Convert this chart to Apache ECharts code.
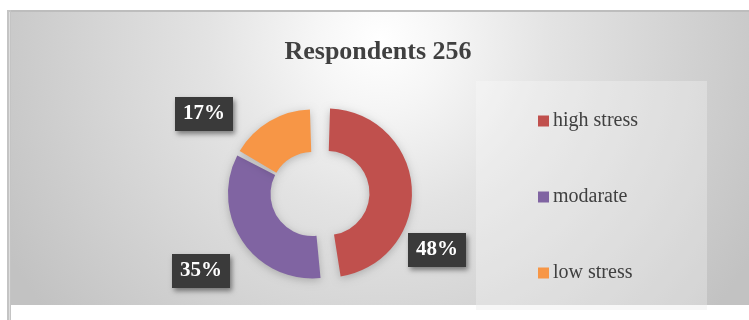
<!DOCTYPE html>
<html><head><meta charset="utf-8">
<script src="https://cdn.jsdelivr.net/npm/echarts@6/dist/echarts.min.js"></script>
<style>html,body{margin:0;padding:0;background:#fff}#c{width:749px;height:320px}</style>
</head><body><div id="c"></div>
<script>
// ---- data ----
const categories = ['high stress', 'modarate', 'low stress'];
const values = [48, 35, 17];
const titleText = 'Respondents 256';

// ---- style ----
const colors = ['#C0504D', '#8064A2', '#F79646'];
const exploded = [true, false, false];
const labelAnchors = [[437, 250], [201, 271], [204, 114]];
const pieCenter = [312.5, 194];
const pieRadius = [42, 84.5];

const chart = echarts.init(document.getElementById('c'), null, {renderer: 'canvas'});

const sliceData = categories.map((n, i) => ({
  name: n, value: values[i], selected: exploded[i],
  itemStyle: {color: colors[i]}
}));
const labelData = categories.map((n, i) => ({name: n, value: values[i]}));

chart.setOption({
  animation: false,
  backgroundColor: '#ffffff',
  graphic: [
    {type: 'rect', silent: true, z: -10, shape: {x: 7, y: 10, width: 742, height: 2}, style: {fill: '#bdbdbd'}},
    {type: 'rect', silent: true, z: -10, shape: {x: 7, y: 10, width: 4, height: 310}, style: {fill: '#c4c4c4'}},
    {type: 'rect', silent: true, z: -9, shape: {x: 9, y: 12, width: 1, height: 308}, style: {fill: '#dedede'}},
    {type: 'rect', silent: true, z: -10, shape: {x: 11, y: 12, width: 738, height: 293},
      style: {fill: new echarts.graphic.RadialGradient(380, 40, 430, [
        {offset: 0, color: '#ffffff'},
        {offset: 0.15, color: '#f6f6f6'},
        {offset: 0.4, color: '#e3e3e3'},
        {offset: 0.8, color: '#cdcdcd'},
        {offset: 1, color: '#c2c2c2'}
      ], true)}},
    {type: 'rect', silent: true, z: -8, shape: {x: 476, y: 81, width: 231, height: 224}, style: {fill: 'rgba(255,255,255,0.28)'}},
    {type: 'rect', silent: true, z: -8, shape: {x: 476, y: 305, width: 231, height: 5}, style: {fill: '#f7f7f7'}}
  ],
  title: {
    text: titleText, left: 373, top: 34, textAlign: 'center',
    textStyle: {fontFamily: 'Liberation Serif', fontWeight: 'bold', fontSize: 26, color: '#404040'}
  },
  legend: {
    orient: 'vertical', left: 538, top: 111, itemGap: 56, padding: 0,
    itemWidth: 11, itemHeight: 11, icon: 'rect', selectedMode: false,
    data: categories,
    textStyle: {fontFamily: 'Liberation Serif', fontSize: 20, color: '#404040', lineHeight: 20, padding: [0, 0, 0, -1]}
  },
  series: [{
    type: 'pie',
    center: pieCenter,
    radius: pieRadius,
    startAngle: 90,
    clockwise: true,
    padAngle: 3.5,
    selectedMode: 'multiple',
    selectedOffset: 15,
    emphasis: {disabled: true},
    itemStyle: {shadowBlur: 8, shadowColor: 'rgba(0,0,0,0.22)', shadowOffsetY: 2},
    label: {show: false},
    labelLine: {show: false},
    data: sliceData
  }, {
    type: 'pie',
    silent: true,
    z: 5,
    center: pieCenter,
    radius: pieRadius,
    startAngle: 90,
    clockwise: true,
    emphasis: {disabled: true},
    itemStyle: {color: 'rgba(0,0,0,0)'},
    label: {
      show: true, position: 'outside', formatter: '{c}%',
      fontFamily: 'Liberation Serif', fontWeight: 'bold', fontSize: 21, color: '#ffffff',
      lineHeight: 22, backgroundColor: '#3a3a3a', padding: [6, 8],
      shadowBlur: 5, shadowColor: 'rgba(0,0,0,0.45)', shadowOffsetX: 2, shadowOffsetY: 3
    },
    labelLine: {show: false},
    labelLayout: function (p) {
      const a = labelAnchors[p.dataIndex];
      return {x: a[0], y: a[1], align: 'center', verticalAlign: 'middle'};
    },
    data: labelData
  }]
});
</script></body></html>
